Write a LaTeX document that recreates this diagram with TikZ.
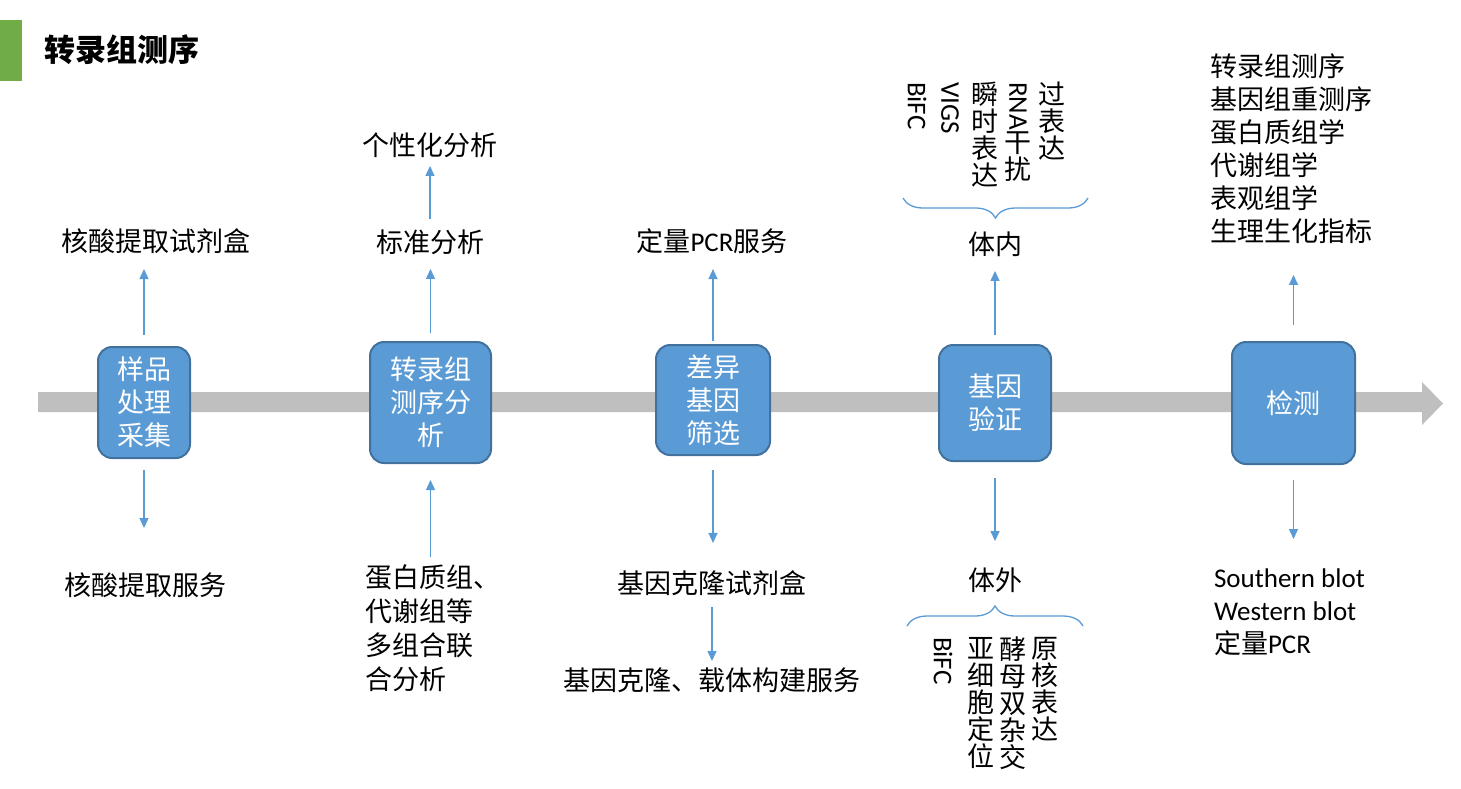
\documentclass[tikz,border=0pt]{standalone}
\usepackage{fontspec}
\usepackage{graphicx}
\usetikzlibrary{arrows.meta,decorations.pathreplacing}
\setmainfont{Noto Sans CJK SC}
\newfontfamily\latfont{Carlito}
\newcommand{\vl}[1]{\rotatebox[origin=c]{-90}{\latfont #1}}
\definecolor{boxblue}{HTML}{5B9BD5}
\definecolor{boxedge}{HTML}{41719C}
\definecolor{bargray}{HTML}{BFBFBF}
\definecolor{leafgreen}{HTML}{70AD47}

\begin{document}
\begin{tikzpicture}[x=0.5pt, y=-0.5pt,
    stage/.style={draw=boxedge, fill=boxblue, line width=1pt, rounded corners=7pt, text=white, align=center, inner sep=0pt, outer sep=0pt, font=\fontsize{13.5pt}{16.5pt}\selectfont},
    lbl/.style={inner sep=0pt, outer sep=0pt, font=\fontsize{13.5pt}{16.5pt}\selectfont},
    col/.style={lbl, anchor=north, align=center, font=\fontsize{13.5pt}{13.5pt}\selectfont},
    link/.style={draw=boxblue, line width=0.65pt, -{Triangle[length=5pt,width=4.5pt]}},
    brace/.style={draw=boxblue, line width=0.65pt, decorate, decoration={brace, amplitude=10pt}}]

    \useasboundingbox (0,0) rectangle (1461,788);

    % title
    \fill[leafgreen] (0,20) rectangle (22,81);
    \node[lbl, font=\fontsize{15.5pt}{18pt}\selectfont\bfseries] (title) at (122,50) {转录组测序};

    % time line
    \fill[bargray] (38,392) -- (1422,392) -- (1422,382) -- (1443,403.5) -- (1422,425) -- (1422,412) -- (38,412) -- cycle;

    % stages
    \node[stage, minimum width=46pt, minimum height=55.5pt] (box1) at (144,402.5) {样品\\处理\\采集};
    \node[stage, minimum width=60.5pt, minimum height=60.5pt] (box2) at (430.5,402.5) {转录组\\测序分\\析};
    \node[stage, minimum width=57pt, minimum height=55pt] (box3) at (713,400) {差异\\基因\\筛选};
    \node[stage, minimum width=56pt, minimum height=58pt] (box4) at (995,403) {基因\\验证};
    \node[stage, minimum width=61.5pt, minimum height=61pt] (box5) at (1293.5,403) {检测};

    % labels
    \node[lbl] (kit1) at (156,241) {核酸提取试剂盒};
    \node[lbl] (svc1) at (145,585) {核酸提取服务};
    \node[lbl] (std) at (430,242) {标准分析};
    \node[lbl] (pers) at (430,145) {个性化分析};
    \node[lbl, anchor=north west, align=left, font=\fontsize{13.5pt}{17pt}\selectfont] (multi) at (365,564.5) {蛋白质组、\\代谢组等\\多组合联\\合分析};
    \node[lbl] (pcr) at (712,241) {定量{\latfont PCR}服务};
    \node[lbl] (clonekit) at (712,583) {基因克隆试剂盒};
    \node[lbl] (clonesvc) at (712,680) {基因克隆、载体构建服务};
    \node[lbl] (invivo) at (995,244) {体内};
    \node[lbl] (invitro) at (995,580) {体外};
    \node[lbl, anchor=north west, align=left] (omics) at (1210,53.5) {转录组测序\\基因组重测序\\蛋白质组学\\代谢组学\\表观组学\\生理生化指标};
    \node[lbl, anchor=north west, align=left] (blots) at (1214,569) {{\latfont Southern blot}\\{\latfont Western blot}\\定量{\latfont PCR}};

    % vertical columns
    \node[col] (ovx) at (1052,82) {过\\表\\达};
    \node[col] (rnai) at (1018,82) {\vl{RNA}\\干\\扰};
    \node[col] (trans) at (985,82) {瞬\\时\\表\\达};
    \node[col] (vigs) at (950,82) {\vl{VIGS}};
    \node[col] (bifcup) at (917,82) {\vl{BiFC}};
    \node[col] (prok) at (1045,637) {原\\核\\表\\达};
    \node[col] (yeast) at (1013,637) {酵\\母\\双\\杂\\交};
    \node[col] (subcell) at (981,637) {亚\\细\\胞\\定\\位};
    \node[col] (bifcdn) at (943,637) {\vl{BiFC}};

    \draw[brace] (1088,198) -- (903,198);
    \draw[brace] (907,626) -- (1083,626);

    \path
        (box1) edge[link, shorten <=6pt, shorten >=7.75pt] (box1 |- kit1.south)
        (box1) edge[link, shorten <=6pt, shorten >=22.25pt] (box1 |- svc1.north)
        (box2) edge[link, shorten <=4.5pt, shorten >=7.25pt] (box2 |- std.south)
        (std) edge[link, shorten <=5.25pt, shorten >=4.25pt] (pers)
        (box2 |- multi.north) edge[link, shorten <=4pt, shorten >=8.5pt] (box2)
        (box3) edge[link, shorten <=2pt, shorten >=7.75pt] (box3 |- pcr.south)
        (box3) edge[link, shorten <=7.5pt, shorten >=13.75pt] (box3 |- clonekit.north)
        (clonekit) edge[link, shorten <=5.75pt, shorten >=3.25pt] (clonesvc)
        (box4) edge[link, shorten <=5pt, shorten >=7.25pt] (invivo)
        (box4) edge[link, shorten <=8.5pt, shorten >=13.25pt] (invitro)
        (box5) edge[link, shorten <=8.5pt, shorten >=15.75pt] (box5 |- omics.south)
        (box5) edge[link, shorten <=8pt, shorten >=15pt] (box5 |- blots.north)
        ;
\end{tikzpicture}
\end{document}
